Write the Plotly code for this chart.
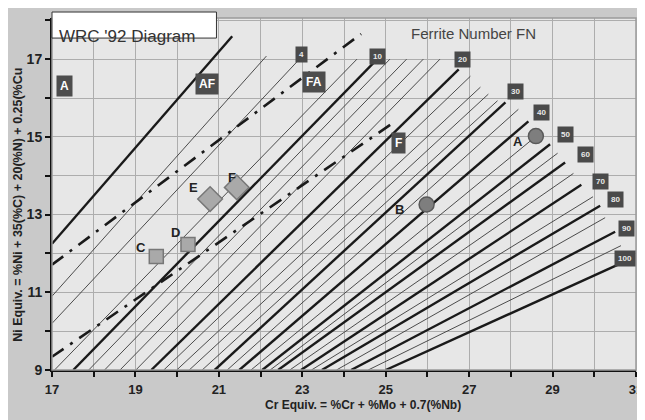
import plotly.graph_objects as go

# ---------------- data ----------------
# thick iso-FN lines (and A/AF boundary): start and end points in data units
thick_names = ["A/AF", "10", "20", "30", "40", "50", "60", "70", "80", "90", "100"]
thick_x0 = [17.0, 17.51, 19.38, 20.90, 21.49, 22.04, 22.42, 22.97, 23.47, 24.17, 25.00]
thick_y0 = [12.25, 9.0, 9.0, 9.0, 9.0, 9.0, 9.0, 9.0, 9.0, 9.0, 9.0]
thick_x1 = [21.32, 24.72, 26.75, 27.87, 28.42, 28.94, 29.30, 29.69, 30.14, 30.50, 30.57]
thick_y1 = [17.59, 16.92, 16.74, 15.89, 15.40, 14.81, 14.34, 13.77, 13.23, 12.56, 11.71]

# thin iso-FN lines
thin_names = ["0", "4", "8", "12", "14", "16", "18", "22", "24", "26", "28",
              "35", "45", "55", "65", "75", "85", "95"]
thin_x0 = [17.0, 17.0, 17.06, 17.88, 18.26, 18.63, 19.01, 19.68, 19.99, 20.29, 20.60,
           21.20, 21.77, 22.23, 22.70, 23.22, 23.82, 24.58]
thin_y0 = [10.9, 10.2, 9.0, 9.0, 9.0, 9.0, 9.0, 9.0, 9.0, 9.0, 9.0,
           9.0, 9.0, 9.0, 9.0, 9.0, 9.0, 9.0]
thin_x1 = [22.14, 22.87, 24.31, 25.10, 25.50, 25.90, 26.30, 27.03, 27.27, 27.46, 27.68,
           28.18, 28.70, 29.12, 29.50, 29.97, 30.26, 30.64]
thin_y1 = [17.08, 16.93, 17.00, 17.00, 17.00, 17.00, 17.00, 16.56, 16.28, 16.10, 15.93,
           15.71, 15.10, 14.58, 14.06, 13.46, 12.92, 12.20]

# dash-dot phase boundaries AF/FA and FA/F
bound_names = ["AF/FA", "FA/F"]
bound_x0 = [17.0, 17.0]
bound_y0 = [11.71, 9.34]
bound_x1 = [24.41, 25.19]
bound_y1 = [17.65, 15.37]

# FN labels at line ends
fn_label_text = ["4", "10", "20", "30", "40", "50", "60", "70", "80", "90", "100"]
fn_label_x = [22.97, 24.81, 26.84, 28.10, 28.73, 29.31, 29.80, 30.16, 30.52, 30.77, 30.74]
fn_label_y = [17.13, 17.07, 16.98, 16.16, 15.63, 15.06, 14.55, 13.86, 13.39, 12.63, 11.88]

# phase region labels
region_text = ["A", "AF", "FA", "F"]
region_x = [17.31, 20.71, 23.28, 25.31]
region_y = [16.30, 16.35, 16.40, 14.83]

# sample points
pt_labels = ["A", "B", "C", "D", "E", "F"]
pt_x = [28.60, 25.98, 19.50, 20.26, 20.79, 21.43]
pt_y = [15.02, 13.26, 11.92, 12.23, 13.40, 13.70]
pt_symbol = ["circle", "circle", "square", "square", "diamond", "diamond"]
pt_label_x = [28.16, 25.34, 19.14, 19.96, 20.39, 21.31]
pt_label_y = [14.88, 13.13, 12.15, 12.54, 13.70, 13.96]

x_ticks = [17, 19, 21, 23, 25, 27, 29, 31]
y_ticks = [9, 11, 13, 15, 17]

# ---------------- figure ----------------
FONT = "Arial, Liberation Sans, sans-serif"
fig = go.Figure()

for i in range(len(thin_names)):
    fig.add_trace(go.Scatter(x=[thin_x0[i], thin_x1[i]], y=[thin_y0[i], thin_y1[i]],
                             mode="lines", line=dict(color="#3a3a3a", width=0.9),
                             hoverinfo="skip", showlegend=False))
for i in range(len(thick_names)):
    fig.add_trace(go.Scatter(x=[thick_x0[i], thick_x1[i]], y=[thick_y0[i], thick_y1[i]],
                             mode="lines", line=dict(color="#1a1a1a", width=2.4),
                             hoverinfo="skip", showlegend=False))
for i in range(len(bound_names)):
    fig.add_trace(go.Scatter(x=[bound_x0[i], bound_x1[i]], y=[bound_y0[i], bound_y1[i]],
                             mode="lines",
                             line=dict(color="#1a1a1a", width=2.6, dash="14px,8px,3px,8px"),
                             hoverinfo="skip", showlegend=False))

marker_size = {"circle": 15, "square": 14, "diamond": 19}
for i in range(len(pt_labels)):
    circ = pt_symbol[i] == "circle"
    fig.add_trace(go.Scatter(
        x=[pt_x[i]], y=[pt_y[i]], mode="markers",
        marker=dict(symbol=pt_symbol[i], size=marker_size[pt_symbol[i]],
                    color="#7e7e7e" if circ else "#a9a9a9",
                    line=dict(color="#5a5a5a" if circ else "#777777", width=1.5)),
        hoverinfo="skip", showlegend=False))

annotations = []
for t, x, y in zip(fn_label_text, fn_label_x, fn_label_y):
    annotations.append(dict(x=x, y=y, xref="x", yref="y", text="<b>" + t + "</b>",
                            showarrow=False, bgcolor="#4a4a4a",
                            font=dict(family=FONT, size=8, color="#e8e8e8"),
                            borderpad=3))
for t, x, y in zip(region_text, region_x, region_y):
    annotations.append(dict(x=x, y=y, xref="x", yref="y", text="<b>" + t + "</b>",
                            showarrow=False, bgcolor="#4d4d4d",
                            font=dict(family=FONT, size=12, color="#ffffff"),
                            borderpad=3))
for t, x, y in zip(pt_labels, pt_label_x, pt_label_y):
    annotations.append(dict(x=x, y=y, xref="x", yref="y", text="<b>" + t + "</b>",
                            showarrow=False,
                            font=dict(family=FONT, size=13, color="#222222")))

annotations.append(dict(x=27.1, y=17.65, xref="x", yref="y", text="Ferrite Number FN",
                        showarrow=False, font=dict(family=FONT, size=15, color="#444444")))
annotations.append(dict(x=0.008, y=0.980, xref="paper", yref="paper", xanchor="left",
                        text="WRC '92 Diagram", showarrow=False,
                        font=dict(family=FONT, size=17, color="#333333")))
annotations.append(dict(x=0.532, y=-0.124, xref="paper", yref="paper",
                        text="<b>Cr Equiv. = %Cr + %Mo + 0.7(%Nb)</b>", showarrow=False,
                        font=dict(family=FONT, size=12, color="#222222")))
annotations.append(dict(x=-0.075, y=0.47, xref="paper", yref="paper", textangle=-90,
                        text="<b>Ni Equiv. = %Ni + 35(%C) + 20(%N) + 0.25(%Cu</b>",
                        showarrow=False,
                        font=dict(family=FONT, size=12.5, color="#222222")))

shapes = [
    # plot frame
    dict(type="rect", xref="paper", yref="paper", x0=0, x1=1, y0=0, y1=1,
         line=dict(color="#9a9a9a", width=1.5)),
    # title box
    dict(type="rect", xref="paper", yref="paper", x0=0, x1=0.2816, y0=0.943, y1=1.017,
         fillcolor="#ffffff", line=dict(color="#333333", width=1)),
]

fig.update_layout(
    width=645, height=420,
    margin=dict(l=44, r=15, t=10, b=58),
    paper_bgcolor="#c9c9c9", plot_bgcolor="#e7e7e7",
    annotations=annotations, shapes=shapes,
    showlegend=False,
    xaxis=dict(range=[17, 31], tickvals=x_ticks, ticktext=[str(v) for v in x_ticks],
               showgrid=True, gridcolor="#adadad", gridwidth=1,
               ticks="outside", ticklen=5, tickwidth=2, tickcolor="#111111",
               showline=True, linecolor="#111111", linewidth=2,
               minor=dict(dtick=1, tick0=17, showgrid=True, gridcolor="#adadad",
                          ticks="outside", ticklen=5, tickcolor="#111111", tickwidth=2),
               tickfont=dict(family=FONT, size=13, color="#222222", weight="bold"),
               ticklabelstandoff=1,
               zeroline=False, fixedrange=True),
    yaxis=dict(range=[9, 18.06], tickvals=y_ticks, ticktext=[str(v) for v in y_ticks],
               showgrid=True, gridcolor="#adadad", gridwidth=1,
               ticks="outside", ticklen=5, tickwidth=2, tickcolor="#111111",
               showline=True, linecolor="#111111", linewidth=2,
               minor=dict(dtick=1, tick0=9, showgrid=True, gridcolor="#adadad",
                          ticks="outside", ticklen=5, tickcolor="#111111", tickwidth=2),
               tickfont=dict(family=FONT, size=14, color="#222222", weight="bold"),
               zeroline=False, fixedrange=True),
)

fig.write_html("out.html")
